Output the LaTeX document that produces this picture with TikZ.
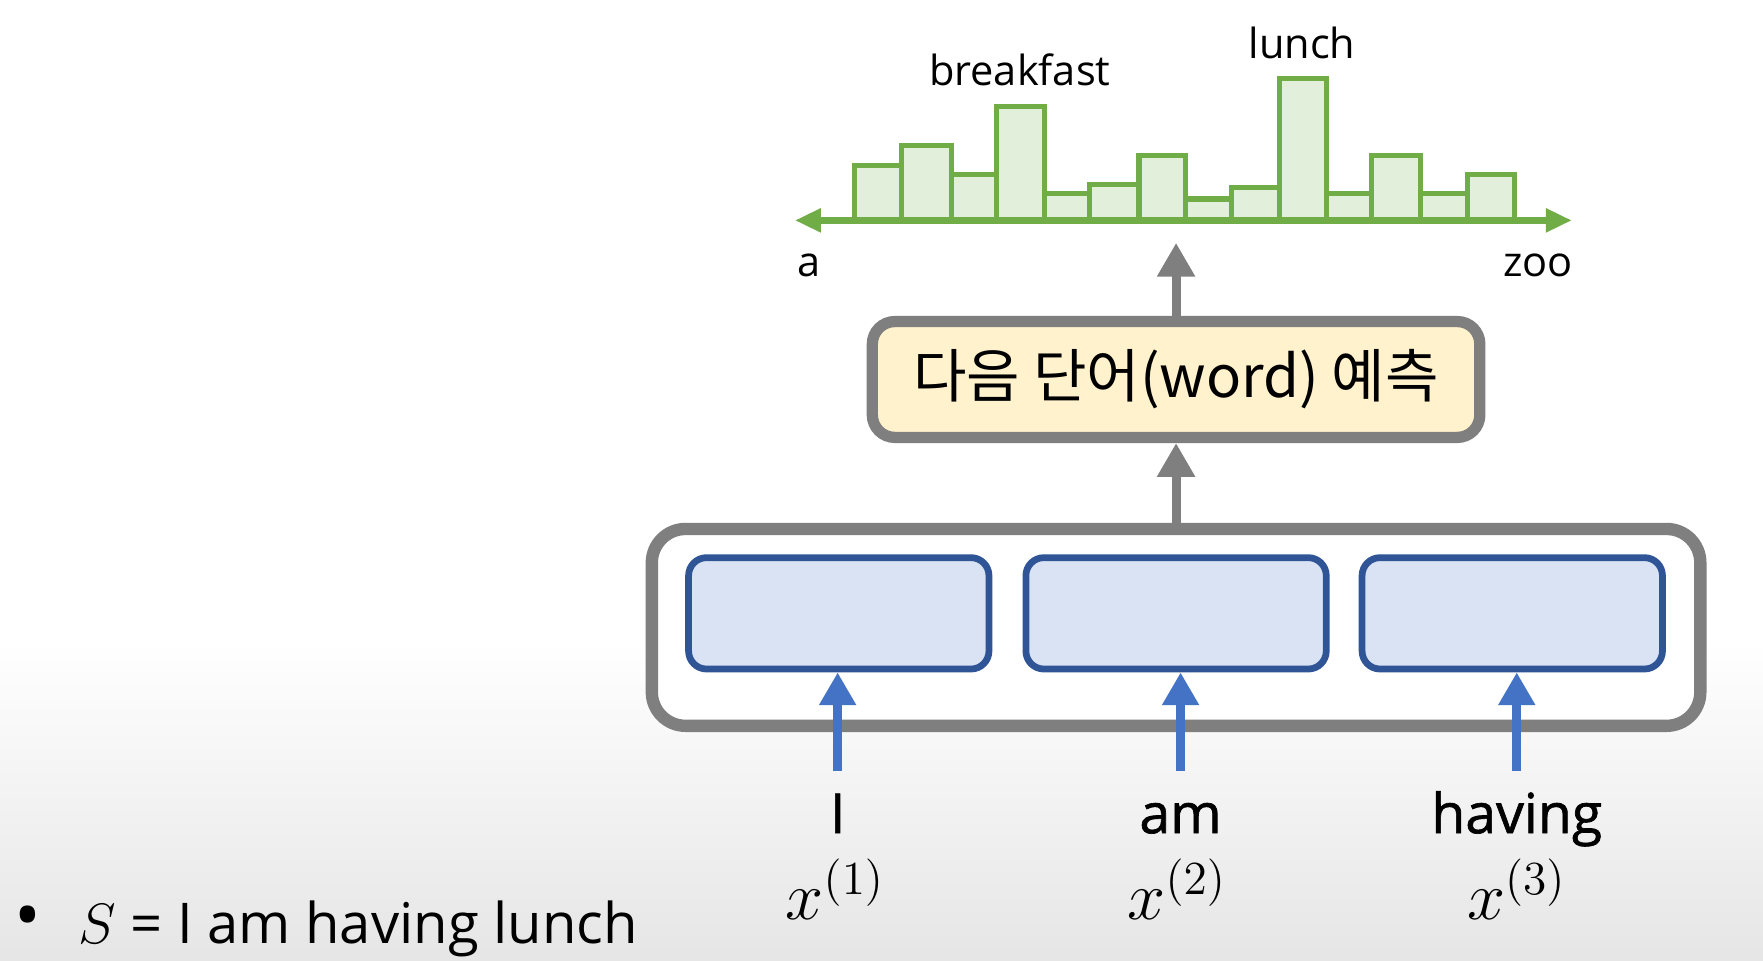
\documentclass[tikz,border=0pt]{standalone}
\usepackage[no-math]{fontspec}
\setmainfont{Open Sans}
\newfontfamily\krfont{Noto Sans CJK KR}
\newfontfamily\wordfont{Open Sans}[FakeBold=1.2]
\usetikzlibrary{arrows.meta}

\definecolor{histgreen}{HTML}{70AD47}
\definecolor{barfill}{HTML}{E2EFDA}
\definecolor{boxgray}{HTML}{7F7F7F}
\definecolor{predfill}{HTML}{FFF2CC}
\definecolor{cellblue}{HTML}{2F5597}
\definecolor{cellfill}{HTML}{DAE3F3}
\definecolor{inblue}{HTML}{4472C4}

\tikzset{
  bar/.style={draw=histgreen, fill=barfill, line width=0.045cm},
  axisline/.style={draw=histgreen, line width=0.06cm, {Triangle[length=0.23cm,width=0.2cm]}-{Triangle[length=0.23cm,width=0.2cm]}},
  histlabel/.style={inner sep=0, anchor=base, font=\fontsize{10.5pt}{12pt}\selectfont},
  predbox/.style={draw=boxgray, fill=predfill, line width=0.1cm, rounded corners=0.2cm, minimum width=5.4cm, minimum height=1.03cm, font=\krfont\fontsize{14.7pt}{17pt}\selectfont},
  rnnbox/.style={draw=boxgray, fill=white, line width=0.11cm, rounded corners=0.3cm, minimum width=9.32cm, minimum height=1.75cm},
  cell/.style={draw=cellblue, fill=cellfill, line width=0.06cm, rounded corners=0.16cm, minimum width=2.67cm, minimum height=0.99cm},
  grayarrow/.style={draw=boxgray, line width=0.08cm, -{Triangle[length=0.3cm,width=0.32cm]}},
  bluearrow/.style={draw=inblue, line width=0.08cm, -{Triangle[length=0.29cm,width=0.31cm]}},
  word/.style={inner sep=0, anchor=base, font=\wordfont\fontsize{14pt}{16pt}\selectfont},
  xvar/.style={inner sep=0, anchor=base, font=\fontsize{17.5pt}{20pt}\selectfont},
}

\begin{document}
\begin{tikzpicture}[x=0.01cm, y=-0.01cm]
  % page and the grey fade at the bottom
  \useasboundingbox (0,0) rectangle (1568,854);
  \fill[white] (0,0) rectangle (1568,854);
  \shade[top color=white, bottom color=black!10] (0,570) rectangle (1568,854);

  % histogram over the vocabulary
  \draw[bar] (760,196) rectangle (802,147);
  \draw[bar] (802,196) rectangle (846,129);
  \draw[bar] (846,196) rectangle (886,155);
  \draw[bar] (886,196) rectangle (929,95);
  \draw[bar] (929,196) rectangle (969,172);
  \draw[bar] (969,196) rectangle (1013,164);
  \draw[bar] (1013,196) rectangle (1054,138);
  \draw[bar] (1054,196) rectangle (1095,177);
  \draw[bar] (1095,196) rectangle (1138,167);
  \draw[bar] (1138,196) rectangle (1180,70);
  \draw[bar] (1180,196) rectangle (1220,172);
  \draw[bar] (1220,196) rectangle (1263,138);
  \draw[bar] (1263,196) rectangle (1305,172);
  \draw[bar] (1305,196) rectangle (1347,155);
  \coordinate (axis-a) at (707,196);
  \coordinate (axis-zoo) at (1398,196);
  \draw[axisline] (axis-a) -- (axis-zoo);

  \node[histlabel] (lbl-breakfast) at (907,76) {breakfast};
  \node[histlabel] (lbl-lunch) at (1158,52) {lunch};
  \node[histlabel] (lbl-a) at (720,246) {a};
  \node[histlabel] (lbl-zoo) at (1368,246) {zoo};

  % prediction box and the rnn block
  \node[predbox] (pred) at (1046,337.5) {다음 단어(word) 예측};
  \node[rnnbox] (rnn) at (1046,558) {};
  \node[cell] (cell1) at (746,545.5) {};
  \node[cell] (cell2) at (1046,545.5) {};
  \node[cell] (cell3) at (1345,545.5) {};

  \coordinate (out-tip) at (1046,216);
  \draw[grayarrow] (rnn.north) -- (pred.south);
  \draw[grayarrow] (pred.north) -- (out-tip);

  % inputs
  \coordinate (in1) at (745,686);
  \coordinate (in2) at (1050,686);
  \coordinate (in3) at (1349,686);
  \draw[bluearrow] (in1) -- (in1 |- cell1.south);
  \draw[bluearrow] (in2) -- (in2 |- cell2.south);
  \draw[bluearrow] (in3) -- (in3 |- cell3.south);

  \node[word] (w1) at (745,741) {I};
  \node[word] (w2) at (1050,741) {am};
  \node[word] (w3) at (1349,741) {having};
  \node[xvar] (x1) at (743,818) {$x^{(1)}$};
  \node[xvar] (x2) at (1047,818) {$x^{(2)}$};
  \node[xvar] (x3) at (1349,818) {$x^{(3)}$};

  % the sentence
  \node[inner sep=0, font=\fontsize{18pt}{20pt}\selectfont] (bullet) at (25,821) {•};
  \node[inner sep=0, anchor=base west, font=\fontsize{14.2pt}{16pt}\selectfont] (sentence) at (69,839) {$S$ = I am having lunch};
\end{tikzpicture}
\end{document}
